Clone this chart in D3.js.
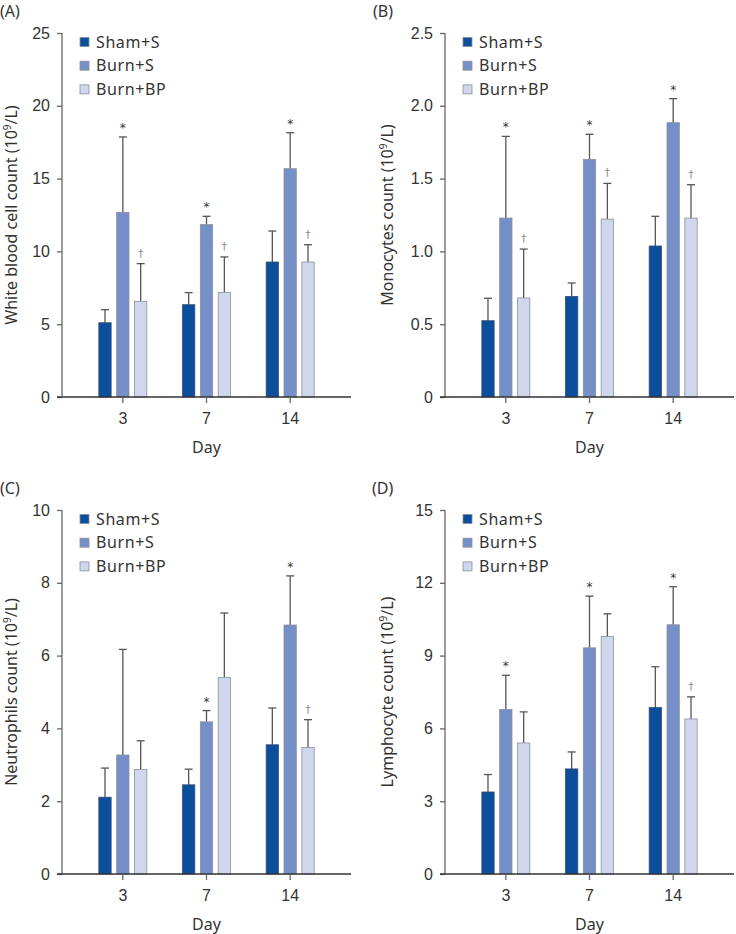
<!DOCTYPE html>
<html>
<head>
<meta charset="utf-8">
<script src="https://cdn.jsdelivr.net/npm/d3@7"></script>
<style>
  body { margin: 0; background: #fff; }
  svg { display: block; font-family: "Noto Sans", "Open Sans", sans-serif; }
</style>
</head>
<body>
<svg id="chart" width="736" height="934"></svg>
<script>
// groups and days
var days = ['3', '7', '14']
var groups = ['Sham+S', 'Burn+S', 'Burn+BP']
var colors = ['#0a4e9c', '#7590c8', '#d0d7ec']

// means and mean+SD per group, one value per day
var wbcMean = [[5.1, 6.34, 9.27], [12.68, 11.84, 15.68], [6.57, 7.17, 9.27]]
var wbcTop = [[6.0, 7.17, 11.4], [17.86, 12.41, 18.15], [9.16, 9.62, 10.46]]
var wbcMarks = [['', '', ''], ['*', '*', '*'], ['†', '†', '†']]

var monoMean = [[0.524, 0.691, 1.037], [1.229, 1.632, 1.884], [0.68, 1.222, 1.229]]
var monoTop = [[0.678, 0.783, 1.241], [1.79, 1.804, 2.049], [1.016, 1.467, 1.458]]
var monoMarks = [['', '', ''], ['*', '*', '*'], ['†', '†', '†']]

var neutMean = [[2.11, 2.45, 3.55], [3.27, 4.18, 6.84], [2.87, 5.40, 3.48]]
var neutTop = [[2.91, 2.88, 4.56], [6.17, 4.49, 8.19], [3.66, 7.17, 4.24]]
var neutMarks = [['', '', ''], ['', '*', '*'], ['', '', '†']]

var lymMean = [[3.38, 4.33, 6.86], [6.78, 9.32, 10.27], [5.40, 9.79, 6.39]]
var lymTop = [[4.10, 5.03, 8.54], [8.19, 11.45, 11.84], [6.68, 10.72, 7.30]]
var lymMarks = [['', '', ''], ['*', '*', '*'], ['', '', '†']]

var wbcTicks = [0, 5, 10, 15, 20, 25]
var monoTicks = [0, 0.5, 1.0, 1.5, 2.0, 2.5]
var neutTicks = [0, 2, 4, 6, 8, 10]
var lymTicks = [0, 3, 6, 9, 12, 15]

var svg = d3.select('#chart')

var panels = [
  { tag: '(A)', lx: 0, ly: 17, ax: 62, top: 33, bottom: 397, titleOff: 50, title: 'White blood cell count',
    mean: wbcMean, up: wbcTop, marks: wbcMarks, ticks: wbcTicks, fmt: d3.format('d') },
  { tag: '(B)', lx: 373, ly: 17, ax: 445, top: 33, bottom: 397, titleOff: 57, title: 'Monocytes count',
    mean: monoMean, up: monoTop, marks: monoMarks, ticks: monoTicks, fmt: d => d === 0 ? '0' : d3.format('.1f')(d) },
  { tag: '(C)', lx: 0, ly: 494, ax: 62, top: 510, bottom: 874, titleOff: 50, title: 'Neutrophils count',
    mean: neutMean, up: neutTop, marks: neutMarks, ticks: neutTicks, fmt: d3.format('d') },
  { tag: '(D)', lx: 372, ly: 494, ax: 445, top: 510, bottom: 874, titleOff: 57, title: 'Lymphocyte count',
    mean: lymMean, up: lymTop, marks: lymMarks, ticks: lymTicks, fmt: d3.format('d') }
]

panels.forEach(p => {
  var g = svg.append('g')

  var y = d3.scaleLinear()
    .domain([0, d3.max(p.ticks)])
    .range([p.bottom, p.top])

  var x = d3.scaleBand()
    .domain(days)
    .range([p.ax + 19, p.ax + 270])

  var xs = d3.scaleBand()
    .domain(groups)
    .range([-24, 24])
    .paddingInner(0.31)

  // panel letter
  g.append('text')
    .attr('x', p.lx)
    .attr('y', p.ly)
    .attr('font-size', 16)
    .attr('fill', '#333')
    .text(p.tag)

  // y axis
  var yAxis = g.append('g')
    .attr('transform', 'translate(' + p.ax + ',0)')
    .call(d3.axisLeft(y).tickValues(p.ticks).tickFormat(p.fmt).tickSize(5).tickPadding(7))
  yAxis.select('.domain').attr('stroke', '#666').attr('stroke-width', 1.3).attr('d', 'M0,' + p.top + 'V' + p.bottom)
  yAxis.selectAll('.tick line').attr('stroke', '#666').attr('stroke-width', 1.3)
  yAxis.selectAll('.tick text').attr('font-size', 16).attr('fill', '#333').attr('font-family', null)

  // marks go in their own layer (opacity keeps the small glyphs grey)
  var markLayer = g.append('g').attr('opacity', 0.99)

  // bars
  groups.forEach((grp, gi) => {
    var data = days.map((d, di) => ({ day: d, mean: p.mean[gi][di], up: p.up[gi][di], mark: p.marks[gi][di] }))
    var cx = d => x(d.day) + x.bandwidth() / 2 + xs(grp)
    var sel = g.append('g').selectAll('g').data(data).enter().append('g')

    // error bar stem + cap
    sel.append('line')
      .attr('x1', d => cx(d) + xs.bandwidth() / 2)
      .attr('x2', d => cx(d) + xs.bandwidth() / 2)
      .attr('y1', d => y(d.mean))
      .attr('y2', d => y(d.up))
      .attr('stroke', '#555')
      .attr('stroke-width', 1.3)
    sel.append('line')
      .attr('x1', d => cx(d) + xs.bandwidth() / 2 - 4)
      .attr('x2', d => cx(d) + xs.bandwidth() / 2 + 4)
      .attr('y1', d => y(d.up))
      .attr('y2', d => y(d.up))
      .attr('stroke', '#555')
      .attr('stroke-width', 1.3)

    sel.append('rect')
      .attr('x', d => cx(d))
      .attr('y', d => y(d.mean))
      .attr('width', xs.bandwidth())
      .attr('height', d => p.bottom - y(d.mean))
      .attr('fill', colors[gi])
      .attr('stroke', gi === 0 ? '#3a4e72' : '#8a8f9a')
      .attr('stroke-width', 0.8)

    // significance marks
    markLayer.selectAll(null).data(data.filter(d => d.mark !== '')).enter().append('text')
      .attr('x', d => cx(d) + xs.bandwidth() / 2)
      .attr('y', d => y(d.up) - (d.mark === '*' ? 5 : 7))
      .attr('text-anchor', 'middle')
      .attr('font-family', 'DejaVu Sans')
      .attr('font-size', d => d.mark === '*' ? 12 : 11)
      .attr('fill', d => d.mark === '*' ? '#333' : '#8c8c8c')
      .text(d => d.mark)
  })

  // x axis
  var xAxis = g.append('g')
    .attr('transform', 'translate(0,' + p.bottom + ')')
    .call(d3.axisBottom(x).tickSize(6).tickPadding(10))
  xAxis.select('.domain').attr('stroke', '#333').attr('stroke-width', 1.3).attr('d', 'M' + (p.ax - 5) + ',0H' + (p.ax + 289))
  xAxis.selectAll('.tick line').attr('stroke', '#666').attr('stroke-width', 1.3)
  xAxis.selectAll('.tick text').attr('font-size', 16).attr('fill', '#333').attr('font-family', null)

  g.append('text')
    .attr('x', x('7') + x.bandwidth() / 2)
    .attr('y', p.bottom + 56)
    .attr('text-anchor', 'middle')
    .attr('font-size', 16)
    .attr('fill', '#333')
    .text('Day')

  // y title with superscript
  var yt = g.append('text')
    .attr('transform', 'translate(' + (p.ax - p.titleOff + 5) + ',' + ((p.top + p.bottom) / 2) + ') rotate(-90)')
    .attr('text-anchor', 'middle')
    .attr('font-size', 16)
    .attr('fill', '#333')
  yt.append('tspan').text(p.title + ' (10')
  yt.append('tspan').attr('font-size', 10).attr('dy', -6).text('9')
  yt.append('tspan').attr('dy', 6).text('/L)')

  // legend
  var leg = g.append('g')
    .attr('transform', 'translate(' + (p.ax + 18) + ',' + (p.top + 9) + ')')
  groups.forEach((grp, gi) => {
    var row = leg.append('g').attr('transform', 'translate(0,' + (gi * 23.7) + ')')
    row.append('rect')
      .attr('x', 0).attr('y', -4.5)
      .attr('width', 9).attr('height', 9)
      .attr('fill', colors[gi])
      .attr('stroke', '#8a8f9a')
      .attr('stroke-width', 0.8)
    row.append('text')
      .attr('x', 16).attr('y', 5.5)
      .attr('font-size', 16)
      .attr('letter-spacing', 0.6)
      .attr('fill', '#333')
      .text(grp)
  })
})
</script>
</body>
</html>
